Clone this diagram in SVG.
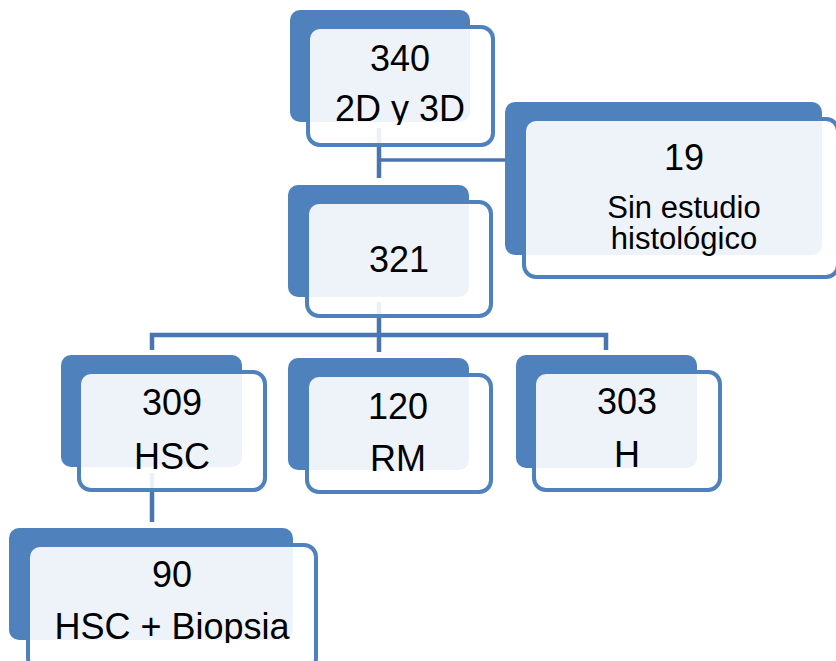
<svg xmlns="http://www.w3.org/2000/svg" width="836" height="661" viewBox="0 0 836 661">
  <style>
    .back { fill: #4F81BD; }
    .front { fill: #FFFFFF; fill-opacity: 0.9; stroke: #4F81BD; stroke-width: 4; }
    .lbl { font-family: "Liberation Sans", Arial, sans-serif; font-size: 36px; fill: #000000; text-anchor: middle; }
    .sm { font-size: 31px; }
    .conn { fill: none; stroke: #4A76AF; stroke-width: 4.5; }
    .thin { stroke-width: 3.5; }
  </style>
  <defs>
    <!-- label areas: the filled back panel, a few pixels deeper -->
    <clipPath id="c340"><rect x="290" y="10" width="180" height="115"/></clipPath>
    <clipPath id="c19"><rect x="505" y="102" width="317" height="156"/></clipPath>
    <clipPath id="c321"><rect x="288" y="185" width="181" height="115"/></clipPath>
    <clipPath id="c309"><rect x="61" y="355" width="181" height="115"/></clipPath>
    <clipPath id="c120"><rect x="288" y="358" width="181" height="115"/></clipPath>
    <clipPath id="c303"><rect x="516" y="355" width="181" height="116"/></clipPath>
    <clipPath id="c90"><rect x="9" y="528" width="284" height="115"/></clipPath>
  </defs>

  <!-- connectors -->
  <g id="connectors">
    <path class="conn" d="M379 128 V178"/>
    <path class="conn thin" d="M379 160 H512"/>
    <path class="conn" d="M379 302 V352"/>
    <path class="conn" d="M152 350 V335 H606 V350"/>
    <path class="conn" d="M152 473 V522"/>
  </g>

  <g id="node-340">
    <rect class="back" x="290" y="10" width="180" height="112" rx="10"/>
    <rect class="front" x="308" y="27" width="185" height="118" rx="12"/>
    <g clip-path="url(#c340)">
      <text class="lbl" x="400" y="71">340</text>
      <text class="lbl" x="400" y="121">2D y 3D</text>
    </g>
  </g>

  <g id="node-19">
    <rect class="back" x="505" y="102" width="317" height="153" rx="10"/>
    <rect class="front" x="524" y="119" width="314" height="158" rx="12"/>
    <g clip-path="url(#c19)">
      <text class="lbl" x="684" y="170">19</text>
      <text class="lbl sm" x="684" y="218">Sin estudio</text>
      <text class="lbl sm" x="684" y="249">histológico</text>
    </g>
  </g>

  <g id="node-321">
    <rect class="back" x="288" y="185" width="181" height="112" rx="10"/>
    <rect class="front" x="307" y="202" width="184" height="114" rx="12"/>
    <g clip-path="url(#c321)">
      <text class="lbl" x="399" y="272">321</text>
    </g>
  </g>

  <g id="node-309">
    <rect class="back" x="61" y="355" width="181" height="112" rx="10"/>
    <rect class="front" x="79" y="372" width="186" height="118" rx="12"/>
    <g clip-path="url(#c309)">
      <text class="lbl" x="172" y="415">309</text>
      <text class="lbl" x="172" y="469">HSC</text>
    </g>
  </g>

  <g id="node-120">
    <rect class="back" x="288" y="358" width="181" height="112" rx="10"/>
    <rect class="front" x="307" y="375" width="184" height="117" rx="12"/>
    <g clip-path="url(#c120)">
      <text class="lbl" x="398" y="419">120</text>
      <text class="lbl" x="398" y="471">RM</text>
    </g>
  </g>

  <g id="node-303">
    <rect class="back" x="516" y="355" width="181" height="113" rx="10"/>
    <rect class="front" x="534" y="372" width="186" height="118" rx="12"/>
    <g clip-path="url(#c303)">
      <text class="lbl" x="627" y="414">303</text>
      <text class="lbl" x="627" y="467">H</text>
    </g>
  </g>

  <g id="node-90">
    <rect class="back" x="9" y="528" width="284" height="112" rx="10"/>
    <rect class="front" x="28" y="545" width="288" height="125" rx="12"/>
    <g clip-path="url(#c90)">
      <text class="lbl" x="172" y="587">90</text>
      <text class="lbl" x="172" y="639">HSC + Biopsia</text>
    </g>
  </g>
</svg>
